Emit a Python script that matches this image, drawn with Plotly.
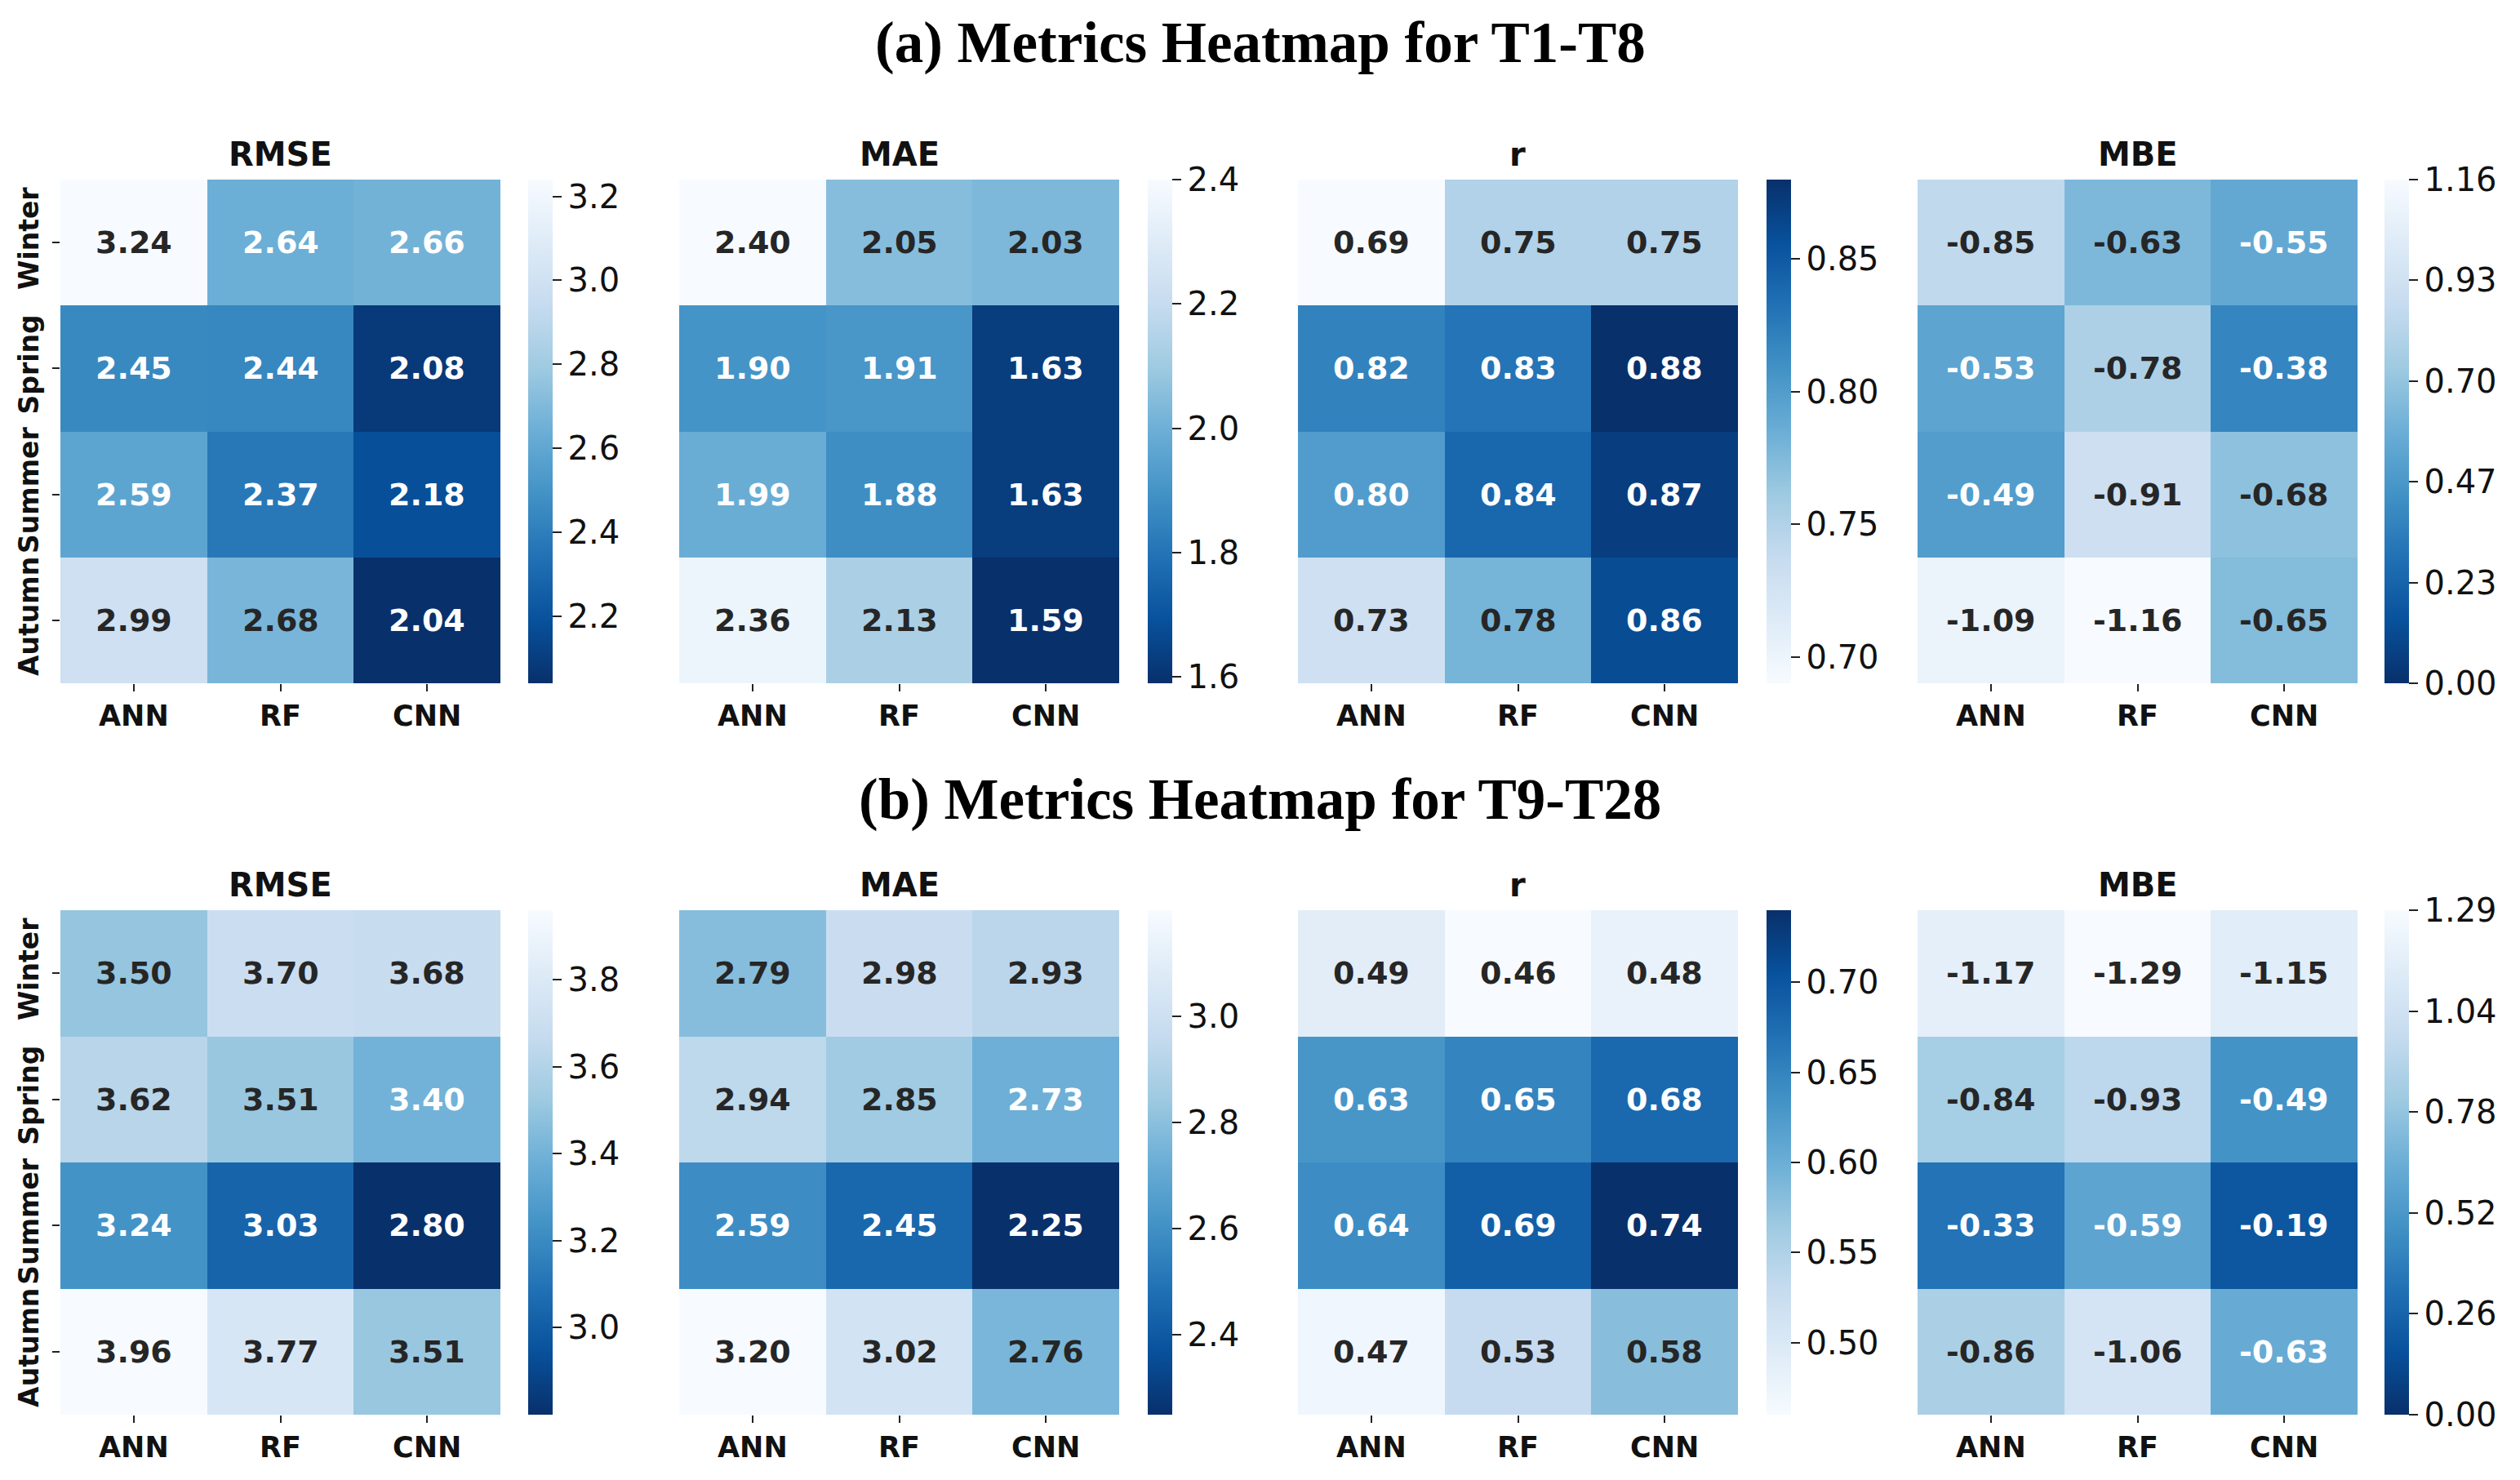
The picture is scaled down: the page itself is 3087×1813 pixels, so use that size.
import numpy as np
import plotly.graph_objects as go

SEASONS = ["Winter", "Spring", "Summer", "Autumn"]
MODELS = ["ANN", "RF", "CNN"]
METRICS = ["RMSE", "MAE", "r", "MBE"]

# (a) T1-T8
RMSE_A = [[3.24, 2.64, 2.66], [2.45, 2.44, 2.08], [2.59, 2.37, 2.18], [2.99, 2.68, 2.04]]
MAE_A = [[2.40, 2.05, 2.03], [1.90, 1.91, 1.63], [1.99, 1.88, 1.63], [2.36, 2.13, 1.59]]
R_A = [[0.69, 0.75, 0.75], [0.82, 0.83, 0.88], [0.80, 0.84, 0.87], [0.73, 0.78, 0.86]]
MBE_A = [[-0.85, -0.63, -0.55], [-0.53, -0.78, -0.38], [-0.49, -0.91, -0.68], [-1.09, -1.16, -0.65]]

# (b) T9-T28
RMSE_B = [[3.50, 3.70, 3.68], [3.62, 3.51, 3.40], [3.24, 3.03, 2.80], [3.96, 3.77, 3.51]]
MAE_B = [[2.79, 2.98, 2.93], [2.94, 2.85, 2.73], [2.59, 2.45, 2.25], [3.20, 3.02, 2.76]]
R_B = [[0.49, 0.46, 0.48], [0.63, 0.65, 0.68], [0.64, 0.69, 0.74], [0.47, 0.53, 0.58]]
MBE_B = [[-1.17, -1.29, -1.15], [-0.84, -0.93, -0.49], [-0.33, -0.59, -0.19], [-0.86, -1.06, -0.63]]

# colorbar tick labels
RMSE_A_TICKS = [2.2, 2.4, 2.6, 2.8, 3.0, 3.2]
MAE_A_TICKS = [1.6, 1.8, 2.0, 2.2, 2.4]
R_A_TICKS = [0.70, 0.75, 0.80, 0.85]
MBE_A_TICKS = ["0.00", "0.23", "0.47", "0.70", "0.93", "1.16"]
RMSE_B_TICKS = [3.0, 3.2, 3.4, 3.6, 3.8]
MAE_B_TICKS = [2.4, 2.6, 2.8, 3.0]
R_B_TICKS = [0.50, 0.55, 0.60, 0.65, 0.70]
MBE_B_TICKS = ["0.00", "0.26", "0.52", "0.78", "1.04", "1.29"]

TITLE_A = "(a) Metrics Heatmap for T1-T8"
TITLE_B = "(b) Metrics Heatmap for T9-T28"

# matplotlib "Blues"
BLUES = ["#f7fbff", "#deebf7", "#c6dbef", "#9ecae1", "#6baed6",
         "#4292c6", "#2171b5", "#08519c", "#08306b"]
BLUES_RGB = np.array([[int(h[i:i + 2], 16) / 255 for i in (1, 3, 5)] for h in BLUES])
COLORSCALE = [[i / (len(BLUES) - 1), c] for i, c in enumerate(BLUES)]


def blues(t):
    t = min(max(t, 0.0), 1.0)
    pos = t * (len(BLUES) - 1)
    i = min(int(np.floor(pos)), len(BLUES) - 2)
    f = pos - i
    return BLUES_RGB[i] * (1 - f) + BLUES_RGB[i + 1] * f


def text_color(rgb):
    c = np.where(rgb <= 0.03928, rgb / 12.92, ((rgb + 0.055) / 1.055) ** 2.4)
    lum = c.dot([0.2126, 0.7152, 0.0722])
    return "#262626" if lum > 0.408 else "#ffffff"


# page geometry (the page body has an 8px margin)
WIN_W, WIN_H = 3087, 1813
OFF = 8
W, H = WIN_W - 2 * OFF, WIN_H - 2 * OFF


def px(xp):
    return (xp - OFF) / W


def py(yp):
    return 1 - (yp - OFF) / H


HX = [(74, 613), (832, 1371), (1590, 2129), (2349, 2888)]
CBX = [647, 1406, 2164, 2921]
ROWS_Y = [(220, 837), (1115, 1733)]
SUB_TITLE_Y = [189, 1084]
MAIN_TITLE_Y = [52, 979]
FONT = "DejaVu Sans"

rows = [
    dict(data=[RMSE_A, MAE_A, R_A, MBE_A],
         ticks=[RMSE_A_TICKS, MAE_A_TICKS, R_A_TICKS, MBE_A_TICKS], title=TITLE_A),
    dict(data=[RMSE_B, MAE_B, R_B, MBE_B],
         ticks=[RMSE_B_TICKS, MAE_B_TICKS, R_B_TICKS, MBE_B_TICKS], title=TITLE_B),
]

fig = go.Figure()
annotations = []
layout_axes = {}

k = 0
for ri, row in enumerate(rows):
    y0p, y1p = ROWS_Y[ri]
    ydom = [py(y1p), py(y0p)]
    for ci, metric in enumerate(METRICS):
        k += 1
        vals = np.array(row["data"][ci], dtype=float)
        ticks = row["ticks"][ci]
        if metric == "MBE":
            z = np.abs(vals)
            zmin, zmax = 0.0, float(z.max())
            tickvals = list(np.linspace(zmin, zmax, len(ticks)))
            ticktext = ticks
            reverse = True
        else:
            z = vals
            zmin, zmax = float(z.min()), float(z.max())
            tickvals = ticks
            fmt = "{:.2f}" if metric == "r" else "{:.1f}"
            ticktext = [fmt.format(t) for t in ticks]
            reverse = metric != "r"
        xa = "x" if k == 1 else f"x{k}"
        ya = "y" if k == 1 else f"y{k}"
        x0p, x1p = HX[ci]
        fig.add_trace(go.Heatmap(
            z=z, x=MODELS, y=SEASONS, xaxis=xa, yaxis=ya,
            colorscale=COLORSCALE, reversescale=reverse,
            zmin=zmin, zmax=zmax, hoverinfo="skip",
            colorbar=dict(
                x=px(CBX[ci]), xanchor="left", xpad=0, ypad=0,
                y=ydom[0], yanchor="bottom", len=ydom[1] - ydom[0], lenmode="fraction",
                thickness=30, thicknessmode="pixels", outlinewidth=0,
                tickvals=tickvals, ticktext=ticktext,
                ticks="outside", ticklen=11, tickwidth=2, tickcolor="#222222",
                tickfont=dict(family=FONT, size=40, color="#111111"),
            ),
        ))
        axkey = "" if k == 1 else str(k)
        layout_axes[f"xaxis{axkey}"] = dict(
            domain=[px(x0p), px(x1p)], anchor=ya, showgrid=False, zeroline=False,
            showline=False, ticks="outside", ticklen=9, tickwidth=2, tickcolor="#222222",
            tickfont=dict(family=FONT, size=35, color="#111111", weight="bold"),
            fixedrange=True,
        )
        layout_axes[f"yaxis{axkey}"] = dict(
            domain=ydom, anchor=xa, showgrid=False, zeroline=False, showline=False,
            autorange="reversed", ticks="outside" if ci == 0 else "", ticklen=9,
            tickwidth=2, tickcolor="#222222", tickangle=-90, showticklabels=(ci == 0),
            ticklabelstandoff=4,
            tickfont=dict(family=FONT, size=33, color="#111111", weight="bold"),
            fixedrange=True,
        )
        # cell annotations
        for i, s in enumerate(SEASONS):
            for j, m in enumerate(MODELS):
                t = (z[i, j] - zmin) / (zmax - zmin)
                rgb = blues(1 - t if reverse else t)
                annotations.append(dict(
                    x=m, y=s, xref=xa, yref=ya, text=f"{vals[i, j]:.2f}",
                    showarrow=False,
                    font=dict(family=FONT, size=38, color=text_color(rgb), weight="bold"),
                ))
        # subplot title
        annotations.append(dict(
            x=px((x0p + x1p) / 2), y=py(SUB_TITLE_Y[ri]), xref="paper", yref="paper",
            text=metric, showarrow=False, xanchor="center", yanchor="middle",
            font=dict(family=FONT, size=40, color="#111111", weight="bold"),
        ))
    annotations.append(dict(
        x=px(WIN_W / 2), y=py(MAIN_TITLE_Y[ri]), xref="paper", yref="paper",
        text=row["title"], showarrow=False, xanchor="center", yanchor="middle",
        font=dict(family="Liberation Serif", size=71, color="#000000", weight="bold"),
    ))

fig.update_layout(
    width=W, height=H, margin=dict(l=0, r=0, t=0, b=0),
    paper_bgcolor="white", plot_bgcolor="white",
    annotations=annotations, **layout_axes,
)

fig.write_html("out.html")
